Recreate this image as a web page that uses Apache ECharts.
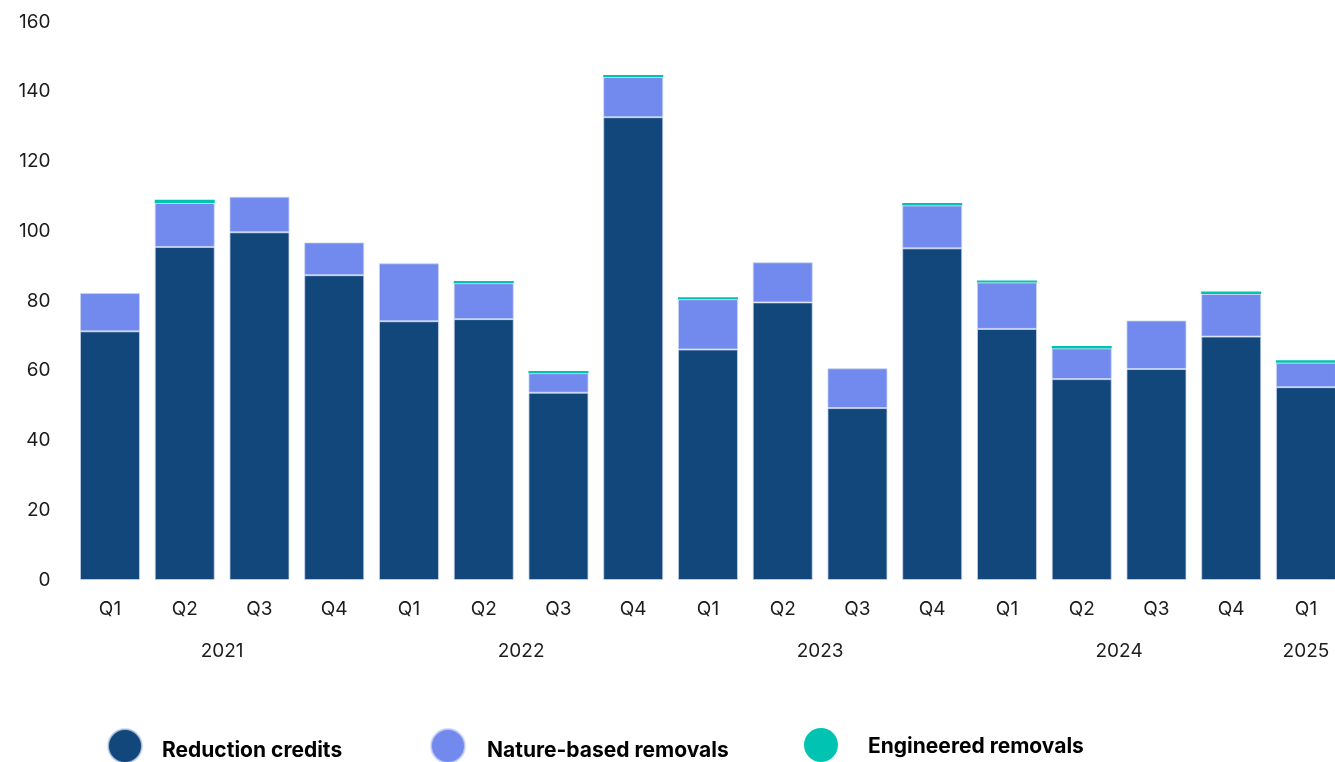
<!DOCTYPE html>
<html>
<head>
<meta charset="utf-8">
<script src="https://cdn.jsdelivr.net/npm/echarts@6/dist/echarts.min.js"></script>
<style>html,body{margin:0;padding:0;background:#fff;overflow:hidden;width:1335px;height:762px;}#c{width:1346px;height:762px;}</style>
</head>
<body>
<div id="c"></div>
<script>
const quarters = ['Q1','Q2','Q3','Q4','Q1','Q2','Q3','Q4','Q1','Q2','Q3','Q4','Q1','Q2','Q3','Q4','Q1'];
const years = ['2021','2021','2021','2021','2022','2022','2022','2022','2023','2023','2023','2023','2024','2024','2024','2024','2025'];
const reductionCredits = [71.3, 95.5, 99.7, 87.4, 74.2, 74.8, 53.7, 132.7, 66.1, 79.6, 49.3, 95.1, 72.0, 57.6, 60.5, 69.8, 55.3];
const natureBased = [11.0, 12.6, 10.2, 9.4, 16.6, 10.3, 5.6, 11.5, 14.4, 11.5, 11.4, 12.3, 13.3, 8.8, 13.9, 12.2, 7.0];
const engineered = [null, 0.9, null, null, null, 0.6, 0.6, 0.6, 0.6, null, null, 0.7, 0.6, 0.7, null, 0.7, 0.7];
const yTicks = [0, 20, 40, 60, 80, 100, 120, 140, 160];

// year label positions: centre of each year's group of categories
const yearNames = [];
const yearCenters = [];
years.forEach((y, i) => {
  const k = yearNames.indexOf(y);
  if (k < 0) { yearNames.push(y); yearCenters.push([i, i]); }
  else yearCenters[k][1] = i;
});
const yearPos = yearCenters.map(p => (p[0] + p[1]) / 2);

const C_DARK = '#11477A', C_NATURE = '#7289EE', C_ENG = '#00C3B1';
const txt = '#1c1c1c';
const font = 'Inter, "Noto Sans", sans-serif';

const chart = echarts.init(document.getElementById('c'), null, {renderer: 'canvas'});
const barStyle = c => ({ color: c, borderColor: 'rgba(200,212,240,0.75)', borderWidth: 1 });
const legendText = (top, left) => ({
  fontFamily: font, fontSize: 21, fontWeight: 'bold', color: '#000',
  rich: { t: { fontFamily: font, fontSize: 21, fontWeight: 'bold', color: '#000', padding: [top, 0, 0, left] } }
});
const legendBase = {
  icon: 'circle', itemWidth: 34, itemHeight: 34, top: 728, padding: 0, orient: 'horizontal',
  selectedMode: false, formatter: n => '{t|' + n + '}'
};
chart.setOption({
  animation: false,
  backgroundColor: '#fff',
  grid: { left: 72.6, top: 22, width: 1270.75, height: 558, containLabel: false },
  legend: [
    Object.assign({}, legendBase, { left: 107, data: ['Reduction credits'], textStyle: legendText(10, 15) }),
    Object.assign({}, legendBase, { left: 430, data: ['Nature-based removals'], textStyle: legendText(10, 17) }),
    Object.assign({}, legendBase, { left: 804, data: ['Engineered removals'], textStyle: legendText(4, 25) })
  ],
  xAxis: [
    {
      type: 'category', data: quarters, position: 'bottom',
      axisLine: { show: false }, axisTick: { show: false },
      axisLabel: { interval: 0, margin: 20, fontFamily: font, fontSize: 19, color: txt }
    },
    {
      type: 'value', position: 'bottom', min: -0.5, max: quarters.length - 0.5, offset: 42,
      axisLine: { show: false }, axisTick: { show: false }, splitLine: { show: false },
      axisLabel: {
        customValues: yearPos, margin: 20, fontFamily: font, fontSize: 19, color: txt,
        formatter: v => { const k = yearPos.findIndex(p => Math.abs(p - v) < 1e-6); return k >= 0 ? yearNames[k] : ''; }
      }
    }
  ],
  yAxis: {
    type: 'value', min: 0, max: 160, interval: 20,
    axisLine: { show: false }, axisTick: { show: false }, splitLine: { show: false },
    axisLabel: { margin: 22, fontFamily: font, fontSize: 19, color: txt, formatter: v => yTicks.includes(v) ? String(v) : '' }
  },
  series: [
    { name: 'Reduction credits', type: 'bar', stack: 't', barWidth: 60, data: reductionCredits, itemStyle: barStyle(C_DARK) },
    { name: 'Nature-based removals', type: 'bar', stack: 't', barWidth: 60, data: natureBased, itemStyle: barStyle(C_NATURE) },
    { name: 'Engineered removals', type: 'bar', stack: 't', barWidth: 60, data: engineered, itemStyle: { color: C_ENG, borderWidth: 0 } }
  ]
});
</script>
</body>
</html>
